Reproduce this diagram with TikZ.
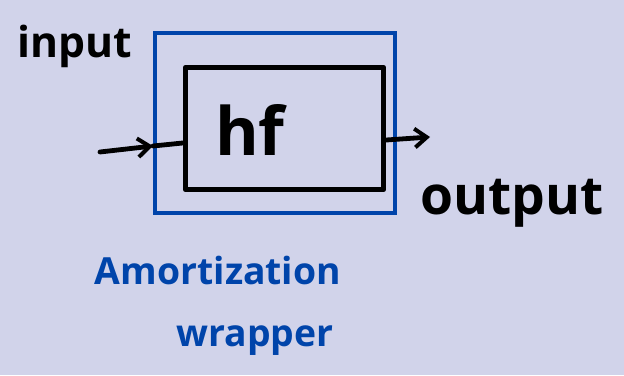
\documentclass[tikz,border=0pt]{standalone}
\usepackage{fontspec}
\setmainfont{Open Sans}
\usetikzlibrary{arrows.meta}
\definecolor{paper}{RGB}{209,211,234}
\definecolor{pen}{RGB}{0,68,170}
\begin{document}
\begin{tikzpicture}[x=0.75pt, y=-0.75pt, inner sep=0pt,
    ink/.style={line width=3.6pt, line cap=round, line join=round},
    tip/.style={-{Straight Barb[length=9pt, width=14pt, line width=3pt]}}]
      \fill[paper] (0,0) rectangle (624,375);
      \node[draw=pen, line width=3pt, minimum width=180pt, minimum height=135pt] (wrap) at (275,123) {};
      \node[draw, ink, minimum width=149pt, minimum height=92pt] (hf) at (284.5,128.5) {};
      \node[font=\bfseries\fontsize{50}{60}\selectfont] (hft) at (250,130) {hf};
      \node[font=\bfseries\fontsize{32}{40}\selectfont] (inp) at (75,46) {input};
      \node[font=\bfseries\fontsize{40}{46}\selectfont] (out) at (512,203) {output};
      \node[text=pen, font=\bfseries\fontsize{28}{34}\selectfont] (amo) at (218,270) {Amortization};
      \node[text=pen, font=\bfseries\fontsize{28}{34}\selectfont] (wra) at (255,341) {wrapper};
      \coordinate (src) at (100,152);
      \coordinate (dst) at (430,137);
      \draw[ink, tip] (src) -- (wrap.west |- 0,146);
      \draw[ink] (wrap.west |- 0,146) -- (hf.west |- 0,143);
      \draw[ink, tip] (hf.east |- 0,140) -- (dst);
   \end{tikzpicture}
\end{document}
